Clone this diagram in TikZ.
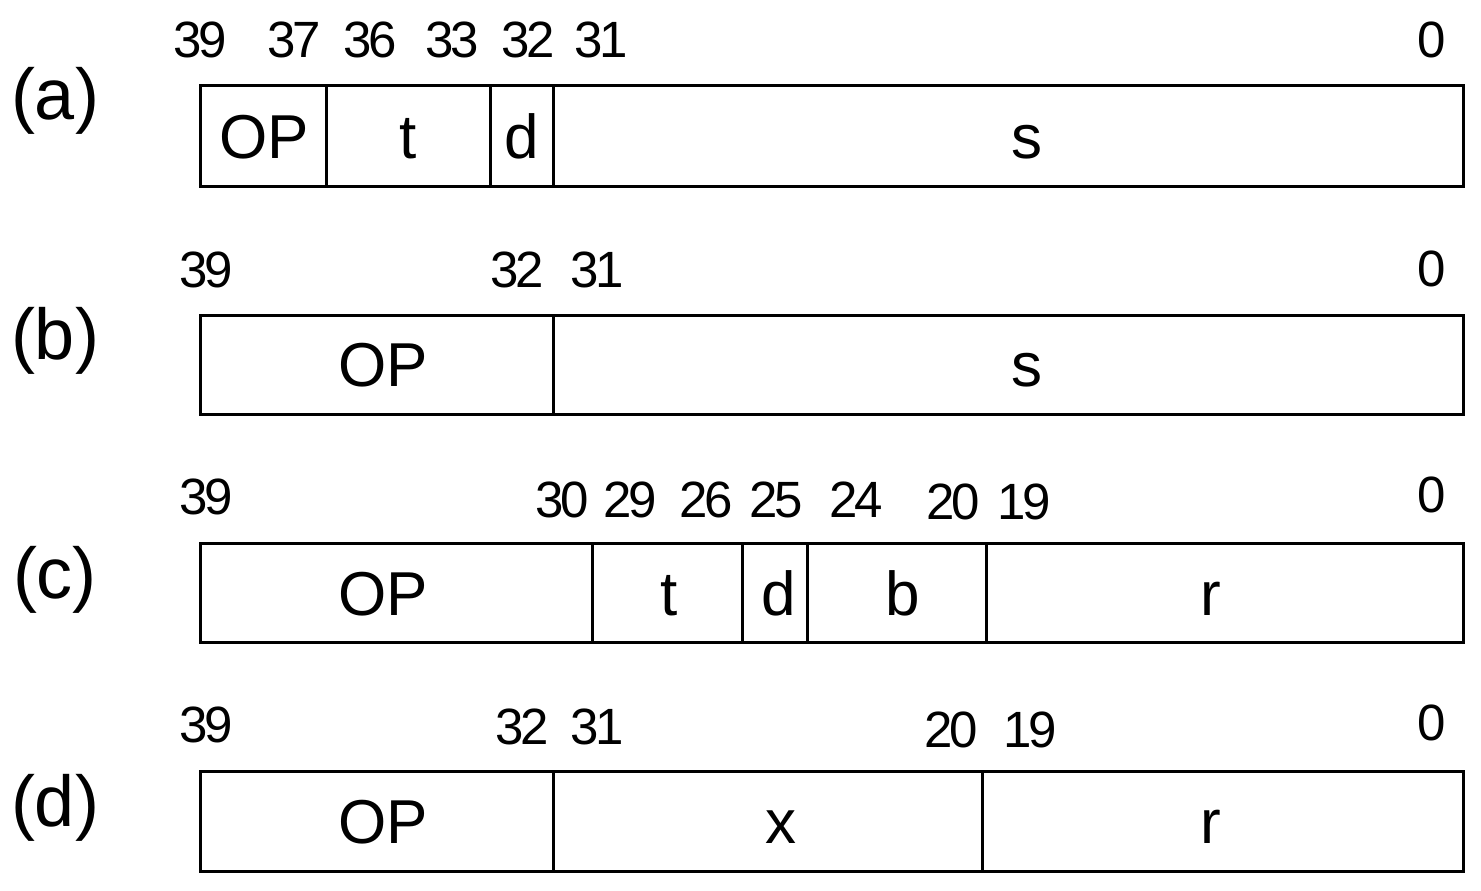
\documentclass[tikz,border=0pt]{standalone}
\usepackage{fontspec}
\setmainfont{Liberation Sans}
\newfontfamily\numfont{Liberation Sans}[LetterSpace=-6]
\begin{document}
\begin{tikzpicture}[x=0.5pt,y=-0.5pt,
  cellline/.style={draw=black,line width=1.5pt},
  bitnum/.style={font=\numfont\fontsize{25.5}{27}\selectfont,inner sep=0pt,anchor=center},
  field/.style={font=\fontsize{31}{34}\selectfont,inner sep=0pt,anchor=base},
  rowtag/.style={font=\fontsize{36}{40}\selectfont,inner sep=0pt,anchor=center}]
\useasboundingbox[fill=white] (0,0) rectangle (1481,890);
% ---------- (a)
\node[rowtag] (la) at (55,101) {(a)};
\draw[cellline] (200,85) rectangle (1463,186);
\foreach \x in {326,490,553} \draw[cellline] (\x,85) -- (\x,186);
\foreach \t/\x/\y [count=\i] in {39/200/40,37/294/40,36/370/40,33/452/40,32/528/40,31/601/40,0/1432/40}
  \node[bitnum] (na\i) at (\x,\y) {\t};
\foreach \t/\x [count=\i] in {OP/264,t/408,d/522,s/1027}
  \node[field] (fa\i) at (\x,158) {\t};
% ---------- (b)
\node[rowtag] (lb) at (55,341) {(b)};
\draw[cellline] (200,315) rectangle (1463,414);
\draw[cellline] (553,315) -- (553,414);
\foreach \t/\x/\y [count=\i] in {39/206/270,32/517/270,31/597/270,0/1432/269}
  \node[bitnum] (nb\i) at (\x,\y) {\t};
\foreach \t/\x [count=\i] in {OP/383,s/1027}
  \node[field] (fb\i) at (\x,386) {\t};
% ---------- (c)
\node[rowtag] (lc) at (55,580) {(c)};
\draw[cellline] (200,543) rectangle (1463,642);
\foreach \x in {592,742,807,986} \draw[cellline] (\x,543) -- (\x,642);
\foreach \t/\x/\y [count=\i] in {39/206/497,30/562/500,29/630/500,26/706/500,25/776/500,24/856/500,20/953/502,19/1024/502,0/1432/495}
  \node[bitnum] (nc\i) at (\x,\y) {\t};
\foreach \t/\x [count=\i] in {OP/383,t/669,d/779,b/903,r/1211}
  \node[field] (fc\i) at (\x,615) {\t};
% ---------- (d)
\node[rowtag] (ld) at (55,808) {(d)};
\draw[cellline] (200,771) rectangle (1463,871);
\foreach \x in {553,982} \draw[cellline] (\x,771) -- (\x,871);
\foreach \t/\x/\y [count=\i] in {39/206/725,32/522/727,31/597/727,20/951/730,19/1030/730,0/1432/723}
  \node[bitnum] (nd\i) at (\x,\y) {\t};
\foreach \t/\x [count=\i] in {OP/383,x/781,r/1211}
  \node[field] (fd\i) at (\x,843) {\t};
\end{tikzpicture}
\end{document}
